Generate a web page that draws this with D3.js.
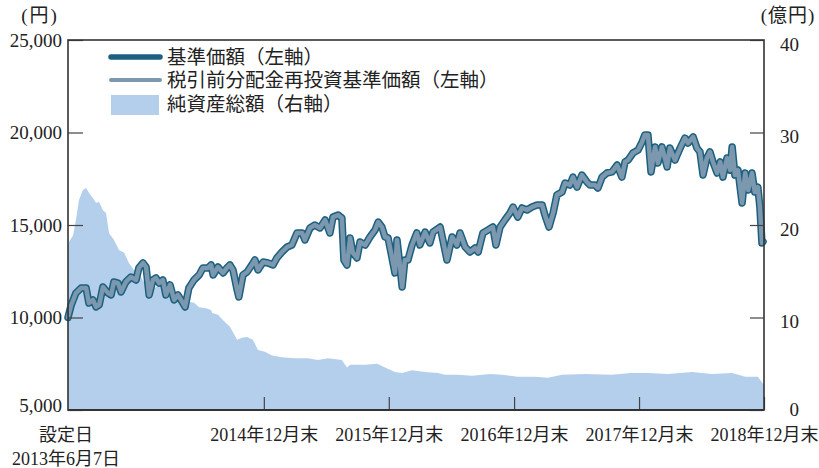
<!DOCTYPE html>
<html>
<head>
<meta charset="utf-8">
<script src="https://cdn.jsdelivr.net/npm/d3@7"></script>
<style>
  body { margin: 0; background: #fff; }
  text { font-family: "Liberation Serif", "Noto Sans CJK JP", serif; fill: #222; }
</style>
</head>
<body>
<svg id="chart" width="819" height="468"></svg>
<script>
// 基準価額 (円)
var navDates = ["2013-06-07","2013-06-16","2013-06-30","2013-07-15","2013-07-30","2013-08-07","2013-08-19","2013-08-28","2013-09-06","2013-09-17",
  "2013-10-02","2013-10-11","2013-10-19","2013-10-31","2013-11-09","2013-11-23","2013-12-08","2013-12-23","2013-12-31","2014-01-12",
  "2014-01-21","2014-01-30","2014-02-10","2014-02-19","2014-02-28","2014-03-11","2014-03-20","2014-04-01","2014-04-13","2014-04-24",
  "2014-05-03","2014-05-15","2014-05-26","2014-06-10","2014-06-25","2014-07-06","2014-07-21","2014-07-30","2014-08-05","2014-08-19",
  "2014-09-03","2014-09-14","2014-09-23","2014-10-02","2014-10-14","2014-10-19","2014-10-31","2014-11-12","2014-11-26","2014-12-05",
  "2014-12-14","2014-12-29","2015-01-12","2015-01-27","2015-02-07","2015-02-22","2015-03-09","2015-03-23","2015-04-07","2015-04-22",
  "2015-04-30","2015-05-15","2015-05-29","2015-06-13","2015-06-28","2015-07-12","2015-07-21","2015-08-05","2015-08-16","2015-08-22",
  "2015-08-31","2015-09-09","2015-09-17","2015-09-29","2015-10-08","2015-10-23","2015-11-06","2015-11-21","2015-11-30","2015-12-11",
  "2015-12-20","2015-12-29","2016-01-09","2016-01-18","2016-01-24","2016-02-02","2016-02-08","2016-02-16","2016-02-25","2016-03-08",
  "2016-03-22","2016-03-31","2016-04-15","2016-04-29","2016-05-08","2016-05-29","2016-06-06","2016-06-18","2016-07-03","2016-07-17",
  "2016-07-26","2016-08-10","2016-08-24","2016-09-08","2016-09-17","2016-10-01","2016-10-16","2016-10-30","2016-11-08","2016-11-20",
  "2016-12-04","2016-12-19","2016-12-28","2017-01-11","2017-01-23","2017-02-07","2017-02-21","2017-03-08","2017-03-23","2017-03-31",
  "2017-04-12","2017-04-24","2017-05-05","2017-05-20","2017-05-29","2017-06-12","2017-06-21","2017-07-03","2017-07-17","2017-08-01",
  "2017-08-10","2017-08-24","2017-09-02","2017-09-14","2017-09-28","2017-10-13","2017-10-28","2017-11-11","2017-11-20","2017-11-29",
  "2017-12-13","2017-12-28","2018-01-09","2018-01-17","2018-01-26","2018-02-04","2018-02-16","2018-02-24","2018-03-08","2018-03-23",
  "2018-03-31","2018-04-15","2018-04-30","2018-05-14","2018-05-23","2018-06-07","2018-06-18","2018-06-27","2018-07-06","2018-07-17",
  "2018-07-26","2018-08-04","2018-08-16","2018-08-25","2018-09-02","2018-09-14","2018-09-23","2018-09-29","2018-10-07","2018-10-16",
  "2018-10-28","2018-11-06","2018-11-15","2018-11-26","2018-12-04","2018-12-13","2018-12-19","2018-12-25","2018-12-28"];
var navValues = [10000,10650,11320,11590,11590,10780,10950,10570,10680,11650,
  11320,11220,11920,11860,11380,11920,12190,12030,12680,12950,
  12730,11220,12030,12140,11860,12030,11220,11760,10950,11220,
  10950,10570,11590,12030,12300,12680,12680,12840,12300,12730,
  12410,12680,12840,12570,11490,11110,12300,12460,12840,13110,
  12570,13000,12950,12840,13220,13540,13810,13920,14570,14570,
  14190,14840,15000,14840,15270,14570,15430,15540,15380,13110,
  12840,14300,13490,13220,14080,13920,14350,14730,15160,14890,
  14350,14300,13270,12410,14190,12730,11650,13110,13110,13920,
  14570,13920,14620,14030,14620,14890,14190,13110,14350,13920,
  14570,13810,13540,13760,13540,14570,14730,14890,13920,14890,
  15270,15650,15970,15430,15920,15810,15970,16080,16080,15540,
  14890,15650,16620,16780,17270,17160,17590,17050,17700,17320,
  17160,17160,17000,17590,17810,17870,18240,17590,18410,18510,
  18890,19050,19490,19870,19870,17870,19220,18350,19220,18140,
  19160,18510,19160,19700,19430,19760,19160,18950,17700,18620,
  18950,18410,17810,18410,17590,18620,17970,19220,17700,17970,
  16190,17810,16890,17810,16780,17050,15970,14030,14100];
// 税引前分配金再投資基準価額: no distributions were paid, so it equals the NAV
var reinvValues = navValues;

// 純資産総額 (億円)
var aumDates = ["2013-06-07","2013-06-22","2013-06-30","2013-07-09","2013-07-21","2013-07-30","2013-08-07","2013-08-19","2013-08-28","2013-09-06",
  "2013-09-17","2013-09-26","2013-10-05","2013-10-19","2013-11-03","2013-11-18","2013-12-02","2013-12-17","2013-12-31","2014-01-15",
  "2014-01-30","2014-02-19","2014-03-11","2014-03-29","2014-04-18","2014-05-09","2014-05-26","2014-06-10","2014-06-25","2014-07-15",
  "2014-07-30","2014-08-02","2014-08-19","2014-09-03","2014-09-23","2014-10-14","2014-10-28","2014-11-12","2014-11-29","2014-12-14",
  "2015-01-03","2015-01-24","2015-02-22","2015-04-01","2015-05-09","2015-06-07","2015-07-06","2015-08-16","2015-08-31","2015-09-09",
  "2015-09-23","2015-10-23","2015-11-27","2015-12-20","2016-01-18","2016-02-08","2016-03-08","2016-04-15","2016-05-23","2016-06-12",
  "2016-07-20","2016-08-30","2016-10-22","2016-11-26","2017-01-11","2017-03-02","2017-04-09","2017-05-20","2017-07-26","2017-10-13",
  "2017-12-05","2018-01-26","2018-03-26","2018-06-04","2018-08-01","2018-09-29","2018-11-06","2018-12-13","2018-12-25","2018-12-31"];
var aumValues = [18.0,18.9,20.5,22.7,23.8,24.0,23.5,22.9,22.4,22.5,
  21.6,21.3,19.1,18.4,17.3,17.0,15.9,15.1,14.8,13.8,
  13.0,13.3,13.5,13.3,12.4,12.2,11.7,11.6,11.1,11.0,
  10.8,10.5,10.3,9.7,9.0,7.6,7.8,7.9,7.6,6.5,
  6.3,5.9,5.7,5.6,5.6,5.4,5.6,5.4,4.6,4.9,
  4.9,4.9,5.0,4.6,4.1,4.0,4.3,4.1,4.0,3.8,
  3.8,3.7,3.9,3.8,3.6,3.6,3.5,3.8,3.9,3.8,
  4.0,4.0,3.9,4.1,3.9,4.0,3.6,3.6,3.0,2.7];

var leftTicks = [5000, 10000, 15000, 20000, 25000];
var rightTicks = [0, 10, 20, 30, 40];
var xTickDates = ["2014-12-31","2015-12-31","2016-12-31","2017-12-31","2018-12-31"];
var xTickLabels = ["2014年12月末","2015年12月末","2016年12月末","2017年12月末","2018年12月末"];
var startLabels = ["設定日", "2013年6月7日"];
var legendLabels = ["基準価額（左軸）", "税引前分配金再投資基準価額（左軸）", "純資産総額（右軸）"];

var parseDate = d3.timeParse("%Y-%m-%d");
var nav = navDates.map(function(d, i) { return {date: parseDate(d), nav: navValues[i], reinv: reinvValues[i]}; });
var aum = aumDates.map(function(d, i) { return {date: parseDate(d), value: aumValues[i]}; });

var plotLeft = 68, plotRight = 764, plotTop = 40, plotBottom = 410;
var darkBlue = "#1c6080", greyBlue = "#7b98ae", areaBlue = "#b4cfeb", frame = "#333";

var svg = d3.select("#chart");

var x = d3.scaleTime()
    .domain([parseDate("2013-06-07"), parseDate("2018-12-31")])
    .range([plotLeft, plotRight]);
var yL = d3.scaleLinear().domain([5000, 25000]).range([plotBottom, plotTop]);
var yR = d3.scaleLinear().domain([0, 40]).range([plotBottom, plotTop]);

// net assets area (right axis)
svg.append("path")
  .datum(aum)
  .attr("fill", areaBlue)
  .attr("d", d3.area().x(function(d) { return x(d.date); }).y0(plotBottom).y1(function(d) { return yR(d.value); }));

// the two NAV lines: thick dark one underneath, lighter one on top
var navLine = d3.line().x(function(d) { return x(d.date); }).y(function(d) { return yL(d.nav); });
var reinvLine = d3.line().x(function(d) { return x(d.date); }).y(function(d) { return yL(d.reinv); });

svg.append("path").datum(nav)
  .attr("fill", "none").attr("stroke", darkBlue).attr("stroke-width", 7.5)
  .attr("stroke-linejoin", "round").attr("stroke-linecap", "round")
  .attr("d", navLine);
svg.append("path").datum(nav)
  .attr("fill", "none").attr("stroke", greyBlue).attr("stroke-width", 4.5)
  .attr("stroke-linejoin", "round").attr("stroke-linecap", "round")
  .attr("d", reinvLine);

// axes
var gL = svg.append("g").attr("transform", "translate(" + plotLeft + ",0)")
  .call(d3.axisLeft(yL).tickValues(leftTicks).tickSizeInner(-15).tickSizeOuter(0).tickPadding(6)
    .tickFormat(d3.format(",")));
var gR = svg.append("g").attr("transform", "translate(" + plotRight + ",0)")
  .call(d3.axisRight(yR).tickValues(rightTicks).tickSizeInner(-14).tickSizeOuter(0).tickPadding(8));
var gB = svg.append("g").attr("transform", "translate(0," + plotBottom + ")")
  .call(d3.axisBottom(x).tickValues(xTickDates.map(parseDate)).tickSizeInner(-13).tickSizeOuter(0)
    .tickFormat(function(d, i) { return xTickLabels[i]; }));

[gL, gR, gB].forEach(function(g) {
  g.select(".domain").remove();
  g.selectAll(".tick line").attr("stroke", "#444").attr("stroke-width", 1.2);
  g.selectAll("text").attr("font-size", 18).attr("fill", "#222");
});
gL.selectAll("text").attr("font-size", 19)
  .attr("dy", function(d) { return d === 5000 ? "0.1em" : "0.32em"; });
gR.selectAll("text").attr("text-anchor", "end").attr("x", 35).attr("font-size", 19)
  .attr("dy", function(d) { return d === 0 ? "0.3em" : "0.55em"; });
gB.selectAll("text").attr("y", 25).attr("dy", "0.35em");

// frame
svg.append("rect")
  .attr("x", plotLeft).attr("y", plotTop).attr("width", plotRight - plotLeft).attr("height", plotBottom - plotTop)
  .attr("fill", "none").attr("stroke", frame).attr("stroke-width", 1.6);
svg.append("line")
  .attr("x1", plotLeft).attr("x2", plotRight).attr("y1", plotBottom).attr("y2", plotBottom)
  .attr("stroke", frame).attr("stroke-width", 2.2);

// start-date label
svg.selectAll(".start-label").data(startLabels).enter().append("text")
  .attr("class", "start-label")
  .attr("x", plotLeft - 2).attr("y", function(d, i) { return 435 + i * 24; })
  .attr("dy", "0.35em").attr("text-anchor", "middle").attr("font-size", 18)
  .text(function(d) { return d; });

// units
svg.append("text").attr("x", 40).attr("y", 15).attr("dy", "0.35em")
  .attr("text-anchor", "middle").attr("font-size", 19).attr("letter-spacing", 2).text("(円)");
svg.append("text").attr("x", 788).attr("y", 15).attr("dy", "0.35em")
  .attr("text-anchor", "middle").attr("font-size", 19).attr("letter-spacing", 1).text("(億円)");

// legend
var legend = svg.append("g");
var rows = [57, 80, 104];
legend.append("line").attr("x1", 111).attr("x2", 160).attr("y1", rows[0]).attr("y2", rows[0])
  .attr("stroke", darkBlue).attr("stroke-width", 5.5).attr("stroke-linecap", "round");
legend.append("line").attr("x1", 111).attr("x2", 160).attr("y1", rows[1]).attr("y2", rows[1])
  .attr("stroke", greyBlue).attr("stroke-width", 4).attr("stroke-linecap", "round");
legend.append("rect").attr("x", 111).attr("y", rows[2] - 9).attr("width", 48).attr("height", 20)
  .attr("fill", areaBlue);
legend.selectAll(".legend-label").data(legendLabels).enter().append("text")
  .attr("class", "legend-label")
  .attr("x", 167).attr("y", function(d, i) { return rows[i]; })
  .attr("dy", "0.35em").attr("font-size", 19.5)
  .text(function(d) { return d; });
</script>
</body>
</html>
